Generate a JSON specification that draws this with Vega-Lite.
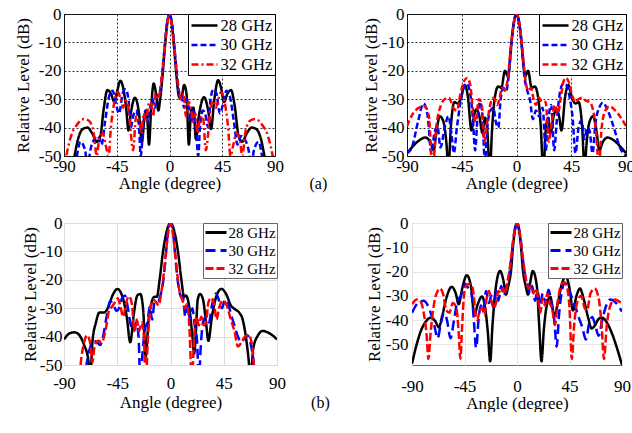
{
"$schema": "https://vega.github.io/schema/vega-lite/v6.json",
"padding": {"left": 13, "top": 4, "right": 0, "bottom": 0},
"background": "white",
"title": {"text": "(b)", "orient": "bottom", "anchor": "middle", "offset": -17, "dx": -4},
"config": {
  "font": "Liberation Serif",
  "view": {"stroke": null},
  "axis": {"labelFont": "Liberation Serif", "titleFont": "Liberation Serif", "labelFontSize": 17, "titleFontSize": 17, "titleFontWeight": "normal", "labelColor": "#000", "titleColor": "#000", "ticks": false, "domain": false, "labelFlush": false, "labelOverlap": false},
  "legend": {"labelFont": "Liberation Serif", "labelColor": "#000", "orient": "top-right", "offset": 0, "fillColor": "#fff"},
  "title": {"font": "Liberation Serif", "fontSize": 16, "fontWeight": "normal", "color": "#000"}
},
"datasets": {
"p1": [
{"f":"28 GHz","a":-90,"v":-62},{"f":"28 GHz","a":-82,"v":-52},{"f":"28 GHz","a":-78,"v":-44},{"f":"28 GHz","a":-74,"v":-40.5},{"f":"28 GHz","a":-70,"v":-40},{"f":"28 GHz","a":-66,"v":-42},{"f":"28 GHz","a":-62,"v":-45},{"f":"28 GHz","a":-59,"v":-43},{"f":"28 GHz","a":-56,"v":-33},{"f":"28 GHz","a":-53,"v":-26.8},{"f":"28 GHz","a":-50,"v":-28},{"f":"28 GHz","a":-47,"v":-31},{"f":"28 GHz","a":-44.5,"v":-27},{"f":"28 GHz","a":-42,"v":-23.5},{"f":"28 GHz","a":-39.5,"v":-26},{"f":"28 GHz","a":-37,"v":-33},{"f":"28 GHz","a":-35,"v":-41},{"f":"28 GHz","a":-33,"v":-35},{"f":"28 GHz","a":-29.5,"v":-29.5},{"f":"28 GHz","a":-26,"v":-35},{"f":"28 GHz","a":-23.5,"v":-45},{"f":"28 GHz","a":-21,"v":-35},{"f":"28 GHz","a":-19.5,"v":-34},{"f":"28 GHz","a":-17.5,"v":-46},{"f":"28 GHz","a":-15.5,"v":-32},{"f":"28 GHz","a":-13.5,"v":-24.5},{"f":"28 GHz","a":-11.5,"v":-28},{"f":"28 GHz","a":-9.5,"v":-34},{"f":"28 GHz","a":-8,"v":-30},{"f":"28 GHz","a":-6,"v":-22},{"f":"28 GHz","a":-4,"v":-12},{"f":"28 GHz","a":-2,"v":-3.5},{"f":"28 GHz","a":0,"v":0},{"f":"28 GHz","a":2,"v":-3.5},{"f":"28 GHz","a":4,"v":-12},{"f":"28 GHz","a":6,"v":-22},{"f":"28 GHz","a":8,"v":-29},{"f":"28 GHz","a":10,"v":-30},{"f":"28 GHz","a":12.5,"v":-25},{"f":"28 GHz","a":14.5,"v":-28},{"f":"28 GHz","a":16.5,"v":-46},{"f":"28 GHz","a":18.5,"v":-34},{"f":"28 GHz","a":20.5,"v":-33},{"f":"28 GHz","a":22.5,"v":-44},{"f":"28 GHz","a":25,"v":-36},{"f":"28 GHz","a":29.5,"v":-29.3},{"f":"28 GHz","a":33,"v":-34},{"f":"28 GHz","a":35.5,"v":-40.5},{"f":"28 GHz","a":38,"v":-31},{"f":"28 GHz","a":41.5,"v":-23.3},{"f":"28 GHz","a":44,"v":-26},{"f":"28 GHz","a":46.5,"v":-31},{"f":"28 GHz","a":49.5,"v":-28},{"f":"28 GHz","a":52.5,"v":-26.8},{"f":"28 GHz","a":55.5,"v":-32},{"f":"28 GHz","a":59,"v":-43},{"f":"28 GHz","a":62,"v":-45},{"f":"28 GHz","a":66,"v":-42},{"f":"28 GHz","a":70,"v":-40},{"f":"28 GHz","a":74,"v":-40.5},{"f":"28 GHz","a":78,"v":-44},{"f":"28 GHz","a":82,"v":-52},{"f":"28 GHz","a":90,"v":-62},
{"f":"30 GHz","a":-90,"v":-62},{"f":"30 GHz","a":-80,"v":-52},{"f":"30 GHz","a":-76,"v":-45},{"f":"30 GHz","a":-72,"v":-48},{"f":"30 GHz","a":-70,"v":-53},{"f":"30 GHz","a":-67,"v":-47},{"f":"30 GHz","a":-64,"v":-44},{"f":"30 GHz","a":-61,"v":-43},{"f":"30 GHz","a":-58,"v":-46},{"f":"30 GHz","a":-55,"v":-38},{"f":"30 GHz","a":-51.5,"v":-29},{"f":"30 GHz","a":-48.5,"v":-27},{"f":"30 GHz","a":-45.5,"v":-32},{"f":"30 GHz","a":-43,"v":-35},{"f":"30 GHz","a":-40,"v":-28},{"f":"30 GHz","a":-37.5,"v":-26.5},{"f":"30 GHz","a":-35,"v":-30},{"f":"30 GHz","a":-33,"v":-40},{"f":"30 GHz","a":-31,"v":-36},{"f":"30 GHz","a":-28.5,"v":-34},{"f":"30 GHz","a":-26,"v":-40},{"f":"30 GHz","a":-24.5,"v":-50},{"f":"30 GHz","a":-22.5,"v":-40},{"f":"30 GHz","a":-20.5,"v":-34},{"f":"30 GHz","a":-18.5,"v":-38},{"f":"30 GHz","a":-16.5,"v":-33},{"f":"30 GHz","a":-14.5,"v":-30},{"f":"30 GHz","a":-12.5,"v":-33},{"f":"30 GHz","a":-10.5,"v":-29},{"f":"30 GHz","a":-8.5,"v":-28},{"f":"30 GHz","a":-6.5,"v":-22},{"f":"30 GHz","a":-4.5,"v":-13},{"f":"30 GHz","a":-2.5,"v":-4.5},{"f":"30 GHz","a":0,"v":0},{"f":"30 GHz","a":2.5,"v":-4.5},{"f":"30 GHz","a":4.5,"v":-13},{"f":"30 GHz","a":6.5,"v":-22},{"f":"30 GHz","a":8.5,"v":-28},{"f":"30 GHz","a":10.5,"v":-29},{"f":"30 GHz","a":12.5,"v":-33},{"f":"30 GHz","a":14.5,"v":-30},{"f":"30 GHz","a":16.5,"v":-33},{"f":"30 GHz","a":18.5,"v":-38},{"f":"30 GHz","a":20.5,"v":-34},{"f":"30 GHz","a":22.5,"v":-40},{"f":"30 GHz","a":24.5,"v":-50},{"f":"30 GHz","a":26,"v":-40},{"f":"30 GHz","a":28.5,"v":-34},{"f":"30 GHz","a":31,"v":-36},{"f":"30 GHz","a":33,"v":-40},{"f":"30 GHz","a":35,"v":-30},{"f":"30 GHz","a":37.5,"v":-26.5},{"f":"30 GHz","a":40,"v":-28},{"f":"30 GHz","a":43,"v":-35},{"f":"30 GHz","a":45.5,"v":-32},{"f":"30 GHz","a":48.5,"v":-27},{"f":"30 GHz","a":51.5,"v":-29},{"f":"30 GHz","a":55,"v":-38},{"f":"30 GHz","a":58,"v":-46},{"f":"30 GHz","a":61,"v":-43},{"f":"30 GHz","a":64,"v":-44},{"f":"30 GHz","a":67,"v":-47},{"f":"30 GHz","a":70,"v":-53},{"f":"30 GHz","a":72,"v":-48},{"f":"30 GHz","a":76,"v":-45},{"f":"30 GHz","a":80,"v":-52},{"f":"30 GHz","a":90,"v":-62},
{"f":"32 GHz","a":-90,"v":-55},{"f":"32 GHz","a":-88,"v":-50},{"f":"32 GHz","a":-84,"v":-43},{"f":"32 GHz","a":-79,"v":-39},{"f":"32 GHz","a":-73,"v":-37},{"f":"32 GHz","a":-69,"v":-37.5},{"f":"32 GHz","a":-65,"v":-41},{"f":"32 GHz","a":-62,"v":-50},{"f":"32 GHz","a":-60,"v":-44},{"f":"32 GHz","a":-57,"v":-42},{"f":"32 GHz","a":-54.5,"v":-46},{"f":"32 GHz","a":-52,"v":-50},{"f":"32 GHz","a":-50,"v":-40},{"f":"32 GHz","a":-47,"v":-31},{"f":"32 GHz","a":-44,"v":-27.5},{"f":"32 GHz","a":-41,"v":-31},{"f":"32 GHz","a":-39.5,"v":-33},{"f":"32 GHz","a":-37.5,"v":-30.5},{"f":"32 GHz","a":-35,"v":-33},{"f":"32 GHz","a":-33,"v":-42},{"f":"32 GHz","a":-31,"v":-48},{"f":"32 GHz","a":-28.5,"v":-36},{"f":"32 GHz","a":-26,"v":-37},{"f":"32 GHz","a":-24,"v":-42},{"f":"32 GHz","a":-22,"v":-35},{"f":"32 GHz","a":-20,"v":-38},{"f":"32 GHz","a":-18,"v":-32},{"f":"32 GHz","a":-16,"v":-31},{"f":"32 GHz","a":-14,"v":-36},{"f":"32 GHz","a":-12,"v":-28},{"f":"32 GHz","a":-10,"v":-30},{"f":"32 GHz","a":-8,"v":-27},{"f":"32 GHz","a":-6,"v":-20},{"f":"32 GHz","a":-4,"v":-12},{"f":"32 GHz","a":-2,"v":-3.8},{"f":"32 GHz","a":0,"v":0},{"f":"32 GHz","a":2,"v":-3.8},{"f":"32 GHz","a":4,"v":-12},{"f":"32 GHz","a":6,"v":-20},{"f":"32 GHz","a":8,"v":-27},{"f":"32 GHz","a":10,"v":-30},{"f":"32 GHz","a":12,"v":-28},{"f":"32 GHz","a":14,"v":-36},{"f":"32 GHz","a":16,"v":-31},{"f":"32 GHz","a":18,"v":-32},{"f":"32 GHz","a":20,"v":-38},{"f":"32 GHz","a":22,"v":-35},{"f":"32 GHz","a":24,"v":-42},{"f":"32 GHz","a":26,"v":-37},{"f":"32 GHz","a":28.5,"v":-36},{"f":"32 GHz","a":31,"v":-48},{"f":"32 GHz","a":33,"v":-42},{"f":"32 GHz","a":35,"v":-33},{"f":"32 GHz","a":37.5,"v":-30.5},{"f":"32 GHz","a":39.5,"v":-33},{"f":"32 GHz","a":41,"v":-31},{"f":"32 GHz","a":44,"v":-27.5},{"f":"32 GHz","a":47,"v":-31},{"f":"32 GHz","a":50,"v":-40},{"f":"32 GHz","a":52,"v":-50},{"f":"32 GHz","a":54.5,"v":-46},{"f":"32 GHz","a":57,"v":-42},{"f":"32 GHz","a":60,"v":-44},{"f":"32 GHz","a":62,"v":-50},{"f":"32 GHz","a":65,"v":-41},{"f":"32 GHz","a":69,"v":-37.5},{"f":"32 GHz","a":73,"v":-37},{"f":"32 GHz","a":79,"v":-39},{"f":"32 GHz","a":84,"v":-43},{"f":"32 GHz","a":88,"v":-50},{"f":"32 GHz","a":90,"v":-55}
],
"p2": [
{"f":"28 GHz","a":-90,"v":-49},{"f":"28 GHz","a":-86,"v":-47},{"f":"28 GHz","a":-80,"v":-44.5},{"f":"28 GHz","a":-75,"v":-43.5},{"f":"28 GHz","a":-71,"v":-45},{"f":"28 GHz","a":-68,"v":-48},{"f":"28 GHz","a":-66,"v":-42},{"f":"28 GHz","a":-63,"v":-36},{"f":"28 GHz","a":-60,"v":-38},{"f":"28 GHz","a":-57.5,"v":-46},{"f":"28 GHz","a":-56,"v":-55},{"f":"28 GHz","a":-54,"v":-40},{"f":"28 GHz","a":-51,"v":-31},{"f":"28 GHz","a":-48.5,"v":-31.5},{"f":"28 GHz","a":-46,"v":-30},{"f":"28 GHz","a":-42.5,"v":-25},{"f":"28 GHz","a":-40,"v":-29},{"f":"28 GHz","a":-37,"v":-41},{"f":"28 GHz","a":-35,"v":-36},{"f":"28 GHz","a":-33,"v":-33.5},{"f":"28 GHz","a":-30.5,"v":-36},{"f":"28 GHz","a":-28,"v":-42},{"f":"28 GHz","a":-26,"v":-36.5},{"f":"28 GHz","a":-24,"v":-41},{"f":"28 GHz","a":-22,"v":-56},{"f":"28 GHz","a":-20,"v":-40},{"f":"28 GHz","a":-18,"v":-30},{"f":"28 GHz","a":-15,"v":-25.5},{"f":"28 GHz","a":-12.5,"v":-26},{"f":"28 GHz","a":-9.5,"v":-20},{"f":"28 GHz","a":-7,"v":-22},{"f":"28 GHz","a":-5.5,"v":-17},{"f":"28 GHz","a":-4,"v":-9.5},{"f":"28 GHz","a":-2,"v":-2.8},{"f":"28 GHz","a":0,"v":0},{"f":"28 GHz","a":2,"v":-2.8},{"f":"28 GHz","a":4,"v":-9.5},{"f":"28 GHz","a":5.5,"v":-17},{"f":"28 GHz","a":7,"v":-22},{"f":"28 GHz","a":9.5,"v":-20},{"f":"28 GHz","a":12.5,"v":-26},{"f":"28 GHz","a":15,"v":-25.5},{"f":"28 GHz","a":18,"v":-30},{"f":"28 GHz","a":20,"v":-40},{"f":"28 GHz","a":22,"v":-56},{"f":"28 GHz","a":24,"v":-41},{"f":"28 GHz","a":26,"v":-36.5},{"f":"28 GHz","a":28,"v":-42},{"f":"28 GHz","a":30.5,"v":-36},{"f":"28 GHz","a":33,"v":-33.5},{"f":"28 GHz","a":35,"v":-36},{"f":"28 GHz","a":37,"v":-41},{"f":"28 GHz","a":40,"v":-29},{"f":"28 GHz","a":42.5,"v":-25},{"f":"28 GHz","a":46,"v":-30},{"f":"28 GHz","a":48.5,"v":-31.5},{"f":"28 GHz","a":51,"v":-31},{"f":"28 GHz","a":54,"v":-40},{"f":"28 GHz","a":56,"v":-55},{"f":"28 GHz","a":57.5,"v":-46},{"f":"28 GHz","a":60,"v":-38},{"f":"28 GHz","a":63,"v":-36},{"f":"28 GHz","a":66,"v":-42},{"f":"28 GHz","a":68,"v":-48},{"f":"28 GHz","a":71,"v":-45},{"f":"28 GHz","a":75,"v":-43.5},{"f":"28 GHz","a":80,"v":-44.5},{"f":"28 GHz","a":86,"v":-47},{"f":"28 GHz","a":90,"v":-49},
{"f":"30 GHz","a":-90,"v":-49},{"f":"30 GHz","a":-86,"v":-47},{"f":"30 GHz","a":-81,"v":-38},{"f":"30 GHz","a":-76.5,"v":-31.5},{"f":"30 GHz","a":-73,"v":-36},{"f":"30 GHz","a":-70,"v":-49},{"f":"30 GHz","a":-67.5,"v":-42},{"f":"30 GHz","a":-65,"v":-39.5},{"f":"30 GHz","a":-62.5,"v":-47},{"f":"30 GHz","a":-59,"v":-40},{"f":"30 GHz","a":-56,"v":-36},{"f":"30 GHz","a":-53.5,"v":-42},{"f":"30 GHz","a":-51.5,"v":-49},{"f":"30 GHz","a":-49,"v":-40},{"f":"30 GHz","a":-46,"v":-31},{"f":"30 GHz","a":-43.5,"v":-26},{"f":"30 GHz","a":-41,"v":-24.5},{"f":"30 GHz","a":-38.5,"v":-27},{"f":"30 GHz","a":-36,"v":-36},{"f":"30 GHz","a":-34,"v":-48},{"f":"30 GHz","a":-32,"v":-36},{"f":"30 GHz","a":-30,"v":-31},{"f":"30 GHz","a":-28,"v":-36},{"f":"30 GHz","a":-26,"v":-52},{"f":"30 GHz","a":-24,"v":-40},{"f":"30 GHz","a":-21.5,"v":-34},{"f":"30 GHz","a":-19,"v":-33},{"f":"30 GHz","a":-17,"v":-38},{"f":"30 GHz","a":-15,"v":-40},{"f":"30 GHz","a":-13,"v":-30},{"f":"30 GHz","a":-11,"v":-26},{"f":"30 GHz","a":-8.5,"v":-27},{"f":"30 GHz","a":-6.5,"v":-22},{"f":"30 GHz","a":-4.5,"v":-12},{"f":"30 GHz","a":-2.5,"v":-3.8},{"f":"30 GHz","a":0,"v":0},{"f":"30 GHz","a":2.5,"v":-3.8},{"f":"30 GHz","a":4.5,"v":-12},{"f":"30 GHz","a":6.5,"v":-22},{"f":"30 GHz","a":8.5,"v":-26.5},{"f":"30 GHz","a":11,"v":-30},{"f":"30 GHz","a":13.5,"v":-37},{"f":"30 GHz","a":16,"v":-34},{"f":"30 GHz","a":18.5,"v":-36},{"f":"30 GHz","a":21.5,"v":-33},{"f":"30 GHz","a":24,"v":-48},{"f":"30 GHz","a":26.5,"v":-36},{"f":"30 GHz","a":28.5,"v":-32},{"f":"30 GHz","a":31,"v":-48},{"f":"30 GHz","a":33,"v":-38},{"f":"30 GHz","a":36,"v":-27},{"f":"30 GHz","a":38.5,"v":-24.5},{"f":"30 GHz","a":41,"v":-25},{"f":"30 GHz","a":43.5,"v":-29},{"f":"30 GHz","a":46,"v":-36},{"f":"30 GHz","a":48.5,"v":-49},{"f":"30 GHz","a":51,"v":-40},{"f":"30 GHz","a":53.5,"v":-37.5},{"f":"30 GHz","a":56,"v":-44},{"f":"30 GHz","a":58,"v":-40},{"f":"30 GHz","a":60,"v":-41},{"f":"30 GHz","a":62.5,"v":-49},{"f":"30 GHz","a":65,"v":-38},{"f":"30 GHz","a":68,"v":-33},{"f":"30 GHz","a":71,"v":-31.2},{"f":"30 GHz","a":75,"v":-34},{"f":"30 GHz","a":80,"v":-40},{"f":"30 GHz","a":85,"v":-47},{"f":"30 GHz","a":90,"v":-50},
{"f":"32 GHz","a":-90,"v":-39.5},{"f":"32 GHz","a":-85,"v":-35},{"f":"32 GHz","a":-80,"v":-33},{"f":"32 GHz","a":-75.5,"v":-32.5},{"f":"32 GHz","a":-72,"v":-36},{"f":"32 GHz","a":-69,"v":-55},{"f":"32 GHz","a":-66,"v":-40},{"f":"32 GHz","a":-62,"v":-32},{"f":"32 GHz","a":-59,"v":-30},{"f":"32 GHz","a":-55.5,"v":-29.5},{"f":"32 GHz","a":-52,"v":-33},{"f":"32 GHz","a":-49,"v":-34},{"f":"32 GHz","a":-46,"v":-28},{"f":"32 GHz","a":-43,"v":-23.5},{"f":"32 GHz","a":-40.5,"v":-22.5},{"f":"32 GHz","a":-38,"v":-25},{"f":"32 GHz","a":-35.5,"v":-35},{"f":"32 GHz","a":-33.5,"v":-38},{"f":"32 GHz","a":-31,"v":-30},{"f":"32 GHz","a":-28.5,"v":-32},{"f":"32 GHz","a":-26.5,"v":-45},{"f":"32 GHz","a":-24,"v":-38},{"f":"32 GHz","a":-21,"v":-31},{"f":"32 GHz","a":-18.5,"v":-29.5},{"f":"32 GHz","a":-16,"v":-32},{"f":"32 GHz","a":-14,"v":-30},{"f":"32 GHz","a":-12,"v":-26},{"f":"32 GHz","a":-9.5,"v":-27},{"f":"32 GHz","a":-7,"v":-22},{"f":"32 GHz","a":-5,"v":-13},{"f":"32 GHz","a":-2.5,"v":-3.8},{"f":"32 GHz","a":0,"v":0},{"f":"32 GHz","a":2.5,"v":-3.8},{"f":"32 GHz","a":5,"v":-13},{"f":"32 GHz","a":7,"v":-22},{"f":"32 GHz","a":9.5,"v":-27},{"f":"32 GHz","a":12,"v":-26},{"f":"32 GHz","a":14,"v":-30},{"f":"32 GHz","a":16,"v":-32},{"f":"32 GHz","a":18.5,"v":-29.5},{"f":"32 GHz","a":21,"v":-31},{"f":"32 GHz","a":24,"v":-31},{"f":"32 GHz","a":26.5,"v":-45},{"f":"32 GHz","a":29,"v":-38},{"f":"32 GHz","a":31.5,"v":-32},{"f":"32 GHz","a":34,"v":-35},{"f":"32 GHz","a":36.5,"v":-29},{"f":"32 GHz","a":38.5,"v":-24},{"f":"32 GHz","a":40.5,"v":-22.5},{"f":"32 GHz","a":43,"v":-24},{"f":"32 GHz","a":46,"v":-29},{"f":"32 GHz","a":48.5,"v":-31},{"f":"32 GHz","a":51,"v":-30},{"f":"32 GHz","a":54,"v":-29.5},{"f":"32 GHz","a":57,"v":-30.5},{"f":"32 GHz","a":60,"v":-31},{"f":"32 GHz","a":63,"v":-34},{"f":"32 GHz","a":66,"v":-45},{"f":"32 GHz","a":67.5,"v":-55},{"f":"32 GHz","a":70,"v":-40},{"f":"32 GHz","a":73,"v":-34},{"f":"32 GHz","a":76.5,"v":-32.5},{"f":"32 GHz","a":80,"v":-33.5},{"f":"32 GHz","a":85,"v":-36},{"f":"32 GHz","a":90,"v":-39.5}
],
"p3": [
{"f":"28 GHz","a":-90,"v":-41},{"f":"28 GHz","a":-85,"v":-38.8},{"f":"28 GHz","a":-81,"v":-38.5},{"f":"28 GHz","a":-77,"v":-39.5},{"f":"28 GHz","a":-73,"v":-43},{"f":"28 GHz","a":-69.5,"v":-48},{"f":"28 GHz","a":-68,"v":-56},{"f":"28 GHz","a":-66,"v":-42},{"f":"28 GHz","a":-63,"v":-35},{"f":"28 GHz","a":-60,"v":-31.5},{"f":"28 GHz","a":-56,"v":-31.5},{"f":"28 GHz","a":-53,"v":-30},{"f":"28 GHz","a":-49,"v":-25.5},{"f":"28 GHz","a":-45,"v":-23.2},{"f":"28 GHz","a":-41,"v":-25.5},{"f":"28 GHz","a":-37,"v":-33},{"f":"28 GHz","a":-34,"v":-42},{"f":"28 GHz","a":-31,"v":-32},{"f":"28 GHz","a":-28,"v":-25.5},{"f":"28 GHz","a":-25.5,"v":-25},{"f":"28 GHz","a":-23,"v":-31},{"f":"28 GHz","a":-21,"v":-47},{"f":"28 GHz","a":-18.5,"v":-34},{"f":"28 GHz","a":-16,"v":-28},{"f":"28 GHz","a":-13.5,"v":-26},{"f":"28 GHz","a":-11.5,"v":-26},{"f":"28 GHz","a":-9.2,"v":-20},{"f":"28 GHz","a":-6.3,"v":-10},{"f":"28 GHz","a":-3,"v":-2.6},{"f":"28 GHz","a":0,"v":0},{"f":"28 GHz","a":3,"v":-2.6},{"f":"28 GHz","a":6.3,"v":-10},{"f":"28 GHz","a":9.2,"v":-20},{"f":"28 GHz","a":11.5,"v":-26},{"f":"28 GHz","a":13,"v":-25.5},{"f":"28 GHz","a":16,"v":-30},{"f":"28 GHz","a":18.5,"v":-40},{"f":"28 GHz","a":20,"v":-46},{"f":"28 GHz","a":21.5,"v":-38},{"f":"28 GHz","a":23,"v":-27},{"f":"28 GHz","a":25,"v":-25},{"f":"28 GHz","a":27.5,"v":-27},{"f":"28 GHz","a":30,"v":-35},{"f":"28 GHz","a":32,"v":-41.5},{"f":"28 GHz","a":35,"v":-33},{"f":"28 GHz","a":39,"v":-25.5},{"f":"28 GHz","a":43,"v":-23.2},{"f":"28 GHz","a":47,"v":-25},{"f":"28 GHz","a":51,"v":-29},{"f":"28 GHz","a":55,"v":-30.5},{"f":"28 GHz","a":58,"v":-31.5},{"f":"28 GHz","a":61,"v":-34},{"f":"28 GHz","a":64,"v":-41},{"f":"28 GHz","a":66,"v":-48},{"f":"28 GHz","a":67.5,"v":-55},{"f":"28 GHz","a":70,"v":-44},{"f":"28 GHz","a":74,"v":-39.5},{"f":"28 GHz","a":78,"v":-38},{"f":"28 GHz","a":82,"v":-38.5},{"f":"28 GHz","a":86,"v":-39.5},{"f":"28 GHz","a":90,"v":-41},
{"f":"30 GHz","a":-90,"v":-62},{"f":"30 GHz","a":-74,"v":-60},{"f":"30 GHz","a":-71,"v":-50},{"f":"30 GHz","a":-68,"v":-44},{"f":"30 GHz","a":-65,"v":-41.5},{"f":"30 GHz","a":-62,"v":-42},{"f":"30 GHz","a":-59.5,"v":-43},{"f":"30 GHz","a":-57,"v":-40},{"f":"30 GHz","a":-54,"v":-33},{"f":"30 GHz","a":-51,"v":-27.5},{"f":"30 GHz","a":-48,"v":-29},{"f":"30 GHz","a":-45.5,"v":-31},{"f":"30 GHz","a":-43.5,"v":-30},{"f":"30 GHz","a":-41,"v":-26.5},{"f":"30 GHz","a":-38.5,"v":-25.5},{"f":"30 GHz","a":-36,"v":-30},{"f":"30 GHz","a":-33.5,"v":-36},{"f":"30 GHz","a":-31,"v":-38},{"f":"30 GHz","a":-29,"v":-35},{"f":"30 GHz","a":-27,"v":-40},{"f":"30 GHz","a":-25.5,"v":-56},{"f":"30 GHz","a":-23.5,"v":-45},{"f":"30 GHz","a":-21.5,"v":-37},{"f":"30 GHz","a":-19.5,"v":-35},{"f":"30 GHz","a":-17.5,"v":-29.5},{"f":"30 GHz","a":-15.5,"v":-34},{"f":"30 GHz","a":-13.5,"v":-28},{"f":"30 GHz","a":-11,"v":-28},{"f":"30 GHz","a":-8.5,"v":-25.5},{"f":"30 GHz","a":-6.5,"v":-21.5},{"f":"30 GHz","a":-4.5,"v":-14},{"f":"30 GHz","a":-2.5,"v":-4.5},{"f":"30 GHz","a":0,"v":0},{"f":"30 GHz","a":2.5,"v":-4.5},{"f":"30 GHz","a":4.5,"v":-14},{"f":"30 GHz","a":6.5,"v":-21.5},{"f":"30 GHz","a":8.5,"v":-25.5},{"f":"30 GHz","a":10.5,"v":-26},{"f":"30 GHz","a":12.5,"v":-33},{"f":"30 GHz","a":14.5,"v":-29},{"f":"30 GHz","a":16.5,"v":-34},{"f":"30 GHz","a":18.5,"v":-30},{"f":"30 GHz","a":20.5,"v":-36},{"f":"30 GHz","a":22.5,"v":-42},{"f":"30 GHz","a":24,"v":-56},{"f":"30 GHz","a":25.5,"v":-44},{"f":"30 GHz","a":27.5,"v":-35},{"f":"30 GHz","a":30,"v":-33},{"f":"30 GHz","a":32.5,"v":-35},{"f":"30 GHz","a":35,"v":-29},{"f":"30 GHz","a":38.5,"v":-24.8},{"f":"30 GHz","a":41.5,"v":-28},{"f":"30 GHz","a":43.5,"v":-30},{"f":"30 GHz","a":46,"v":-27},{"f":"30 GHz","a":48.5,"v":-28},{"f":"30 GHz","a":51,"v":-32},{"f":"30 GHz","a":54,"v":-36},{"f":"30 GHz","a":57,"v":-40},{"f":"30 GHz","a":59.5,"v":-42},{"f":"30 GHz","a":62,"v":-41},{"f":"30 GHz","a":65,"v":-39.5},{"f":"30 GHz","a":68,"v":-43},{"f":"30 GHz","a":70,"v":-48},{"f":"30 GHz","a":72,"v":-56},{"f":"30 GHz","a":74,"v":-60},{"f":"30 GHz","a":90,"v":-62},
{"f":"32 GHz","a":-90,"v":-62},{"f":"32 GHz","a":-78,"v":-60},{"f":"32 GHz","a":-76,"v":-50},{"f":"32 GHz","a":-73,"v":-42},{"f":"32 GHz","a":-70.5,"v":-39.5},{"f":"32 GHz","a":-68,"v":-42},{"f":"32 GHz","a":-66,"v":-49},{"f":"32 GHz","a":-64,"v":-43},{"f":"32 GHz","a":-61,"v":-41.5},{"f":"32 GHz","a":-58,"v":-42},{"f":"32 GHz","a":-55,"v":-38},{"f":"32 GHz","a":-52,"v":-31},{"f":"32 GHz","a":-49.5,"v":-29.5},{"f":"32 GHz","a":-47,"v":-28},{"f":"32 GHz","a":-44.5,"v":-26.5},{"f":"32 GHz","a":-42,"v":-30},{"f":"32 GHz","a":-40,"v":-33},{"f":"32 GHz","a":-37.5,"v":-28},{"f":"32 GHz","a":-35,"v":-25.8},{"f":"32 GHz","a":-32.5,"v":-29},{"f":"32 GHz","a":-30.5,"v":-38},{"f":"32 GHz","a":-28.5,"v":-34},{"f":"32 GHz","a":-26.5,"v":-38},{"f":"32 GHz","a":-24.5,"v":-35},{"f":"32 GHz","a":-22.5,"v":-40},{"f":"32 GHz","a":-21,"v":-56},{"f":"32 GHz","a":-19,"v":-40},{"f":"32 GHz","a":-17,"v":-30},{"f":"32 GHz","a":-14.5,"v":-27},{"f":"32 GHz","a":-12,"v":-28},{"f":"32 GHz","a":-10,"v":-29},{"f":"32 GHz","a":-8,"v":-25},{"f":"32 GHz","a":-6,"v":-19},{"f":"32 GHz","a":-4,"v":-11},{"f":"32 GHz","a":-2,"v":-3.5},{"f":"32 GHz","a":0,"v":0},{"f":"32 GHz","a":2,"v":-3.5},{"f":"32 GHz","a":4,"v":-11},{"f":"32 GHz","a":6,"v":-19},{"f":"32 GHz","a":8,"v":-25},{"f":"32 GHz","a":10,"v":-27},{"f":"32 GHz","a":12,"v":-30},{"f":"32 GHz","a":14,"v":-28.5},{"f":"32 GHz","a":16,"v":-37},{"f":"32 GHz","a":18,"v":-56},{"f":"32 GHz","a":20,"v":-40},{"f":"32 GHz","a":22,"v":-33},{"f":"32 GHz","a":24,"v":-36},{"f":"32 GHz","a":26,"v":-33},{"f":"32 GHz","a":28,"v":-36},{"f":"32 GHz","a":30,"v":-35},{"f":"32 GHz","a":32,"v":-28},{"f":"32 GHz","a":34.5,"v":-26.3},{"f":"32 GHz","a":37,"v":-29},{"f":"32 GHz","a":39,"v":-34},{"f":"32 GHz","a":41,"v":-30},{"f":"32 GHz","a":44.5,"v":-27.3},{"f":"32 GHz","a":47.5,"v":-29},{"f":"32 GHz","a":51,"v":-34},{"f":"32 GHz","a":54,"v":-38},{"f":"32 GHz","a":57,"v":-43.5},{"f":"32 GHz","a":60,"v":-42},{"f":"32 GHz","a":63,"v":-40},{"f":"32 GHz","a":66,"v":-39.5},{"f":"32 GHz","a":69,"v":-43},{"f":"32 GHz","a":71.5,"v":-56},{"f":"32 GHz","a":75,"v":-60},{"f":"32 GHz","a":90,"v":-62}
],
"p4": [
{"f":"28 GHz","a":-90,"v":-58},{"f":"28 GHz","a":-86,"v":-50},{"f":"28 GHz","a":-82,"v":-44},{"f":"28 GHz","a":-78,"v":-40.5},{"f":"28 GHz","a":-74,"v":-39},{"f":"28 GHz","a":-70,"v":-40.5},{"f":"28 GHz","a":-67,"v":-43},{"f":"28 GHz","a":-64,"v":-38},{"f":"28 GHz","a":-60,"v":-30},{"f":"28 GHz","a":-56,"v":-26.3},{"f":"28 GHz","a":-52.5,"v":-29},{"f":"28 GHz","a":-50,"v":-33.5},{"f":"28 GHz","a":-47,"v":-27},{"f":"28 GHz","a":-43,"v":-21.5},{"f":"28 GHz","a":-39.5,"v":-26},{"f":"28 GHz","a":-36.5,"v":-38},{"f":"28 GHz","a":-34,"v":-34},{"f":"28 GHz","a":-30,"v":-30.3},{"f":"28 GHz","a":-27,"v":-36},{"f":"28 GHz","a":-25,"v":-45},{"f":"28 GHz","a":-23,"v":-57},{"f":"28 GHz","a":-21,"v":-42},{"f":"28 GHz","a":-18,"v":-26},{"f":"28 GHz","a":-14.5,"v":-19.8},{"f":"28 GHz","a":-11.5,"v":-24},{"f":"28 GHz","a":-9.5,"v":-29.5},{"f":"28 GHz","a":-7.5,"v":-26},{"f":"28 GHz","a":-5,"v":-19},{"f":"28 GHz","a":-3.5,"v":-10},{"f":"28 GHz","a":-1.8,"v":-3},{"f":"28 GHz","a":0,"v":0},{"f":"28 GHz","a":1.8,"v":-3},{"f":"28 GHz","a":3.5,"v":-10},{"f":"28 GHz","a":5,"v":-19},{"f":"28 GHz","a":7.5,"v":-26},{"f":"28 GHz","a":9.5,"v":-29.5},{"f":"28 GHz","a":11.5,"v":-24},{"f":"28 GHz","a":13.5,"v":-19.8},{"f":"28 GHz","a":17,"v":-26},{"f":"28 GHz","a":19,"v":-42},{"f":"28 GHz","a":21,"v":-57},{"f":"28 GHz","a":23,"v":-44},{"f":"28 GHz","a":25.5,"v":-34},{"f":"28 GHz","a":28.5,"v":-30.4},{"f":"28 GHz","a":32,"v":-38},{"f":"28 GHz","a":35,"v":-33},{"f":"28 GHz","a":38.5,"v":-25},{"f":"28 GHz","a":42,"v":-22},{"f":"28 GHz","a":45,"v":-27},{"f":"28 GHz","a":48,"v":-36},{"f":"28 GHz","a":51,"v":-30},{"f":"28 GHz","a":54,"v":-27},{"f":"28 GHz","a":57,"v":-31},{"f":"28 GHz","a":61,"v":-39},{"f":"28 GHz","a":64,"v":-43.5},{"f":"28 GHz","a":67,"v":-42},{"f":"28 GHz","a":70,"v":-39.5},{"f":"28 GHz","a":73,"v":-39},{"f":"28 GHz","a":77,"v":-41},{"f":"28 GHz","a":81,"v":-45},{"f":"28 GHz","a":86,"v":-52},{"f":"28 GHz","a":90,"v":-58.5},
{"f":"30 GHz","a":-90,"v":-37},{"f":"30 GHz","a":-85,"v":-33},{"f":"30 GHz","a":-80,"v":-32},{"f":"30 GHz","a":-75.5,"v":-35},{"f":"30 GHz","a":-71,"v":-42},{"f":"30 GHz","a":-68,"v":-47.5},{"f":"30 GHz","a":-65.5,"v":-42},{"f":"30 GHz","a":-62.5,"v":-37},{"f":"30 GHz","a":-60,"v":-40},{"f":"30 GHz","a":-57,"v":-47.5},{"f":"30 GHz","a":-54,"v":-40},{"f":"30 GHz","a":-51,"v":-32},{"f":"30 GHz","a":-48,"v":-30},{"f":"30 GHz","a":-44.5,"v":-25},{"f":"30 GHz","a":-41.5,"v":-27},{"f":"30 GHz","a":-39,"v":-29},{"f":"30 GHz","a":-37,"v":-40},{"f":"30 GHz","a":-35,"v":-51.5},{"f":"30 GHz","a":-33,"v":-40},{"f":"30 GHz","a":-31,"v":-34},{"f":"30 GHz","a":-29,"v":-36},{"f":"30 GHz","a":-26.5,"v":-28},{"f":"30 GHz","a":-24,"v":-33},{"f":"30 GHz","a":-22,"v":-30},{"f":"30 GHz","a":-20,"v":-35},{"f":"30 GHz","a":-18,"v":-28},{"f":"30 GHz","a":-16,"v":-32},{"f":"30 GHz","a":-13.5,"v":-26},{"f":"30 GHz","a":-11,"v":-30},{"f":"30 GHz","a":-9,"v":-25},{"f":"30 GHz","a":-7,"v":-22},{"f":"30 GHz","a":-5,"v":-15},{"f":"30 GHz","a":-2.5,"v":-4.5},{"f":"30 GHz","a":0,"v":0},{"f":"30 GHz","a":2.5,"v":-4.5},{"f":"30 GHz","a":5,"v":-15},{"f":"30 GHz","a":7,"v":-22},{"f":"30 GHz","a":9,"v":-25},{"f":"30 GHz","a":11,"v":-29},{"f":"30 GHz","a":13,"v":-26},{"f":"30 GHz","a":15.5,"v":-32},{"f":"30 GHz","a":17.5,"v":-28},{"f":"30 GHz","a":20,"v":-34},{"f":"30 GHz","a":22,"v":-29},{"f":"30 GHz","a":24.5,"v":-33},{"f":"30 GHz","a":27,"v":-27.5},{"f":"30 GHz","a":29.5,"v":-33},{"f":"30 GHz","a":32,"v":-40},{"f":"30 GHz","a":34,"v":-51},{"f":"30 GHz","a":36,"v":-38},{"f":"30 GHz","a":38.5,"v":-28},{"f":"30 GHz","a":41,"v":-24.5},{"f":"30 GHz","a":43.5,"v":-26.5},{"f":"30 GHz","a":46.5,"v":-30},{"f":"30 GHz","a":50,"v":-34.5},{"f":"30 GHz","a":53,"v":-39},{"f":"30 GHz","a":56,"v":-43},{"f":"30 GHz","a":59,"v":-48},{"f":"30 GHz","a":62,"v":-41},{"f":"30 GHz","a":64.5,"v":-38.7},{"f":"30 GHz","a":67,"v":-42},{"f":"30 GHz","a":70,"v":-46.5},{"f":"30 GHz","a":73,"v":-40},{"f":"30 GHz","a":76.5,"v":-34},{"f":"30 GHz","a":80,"v":-31.5},{"f":"30 GHz","a":85,"v":-33},{"f":"30 GHz","a":90,"v":-36.5},
{"f":"32 GHz","a":-90,"v":-33.5},{"f":"32 GHz","a":-86,"v":-31.5},{"f":"32 GHz","a":-83,"v":-32},{"f":"32 GHz","a":-80,"v":-37},{"f":"32 GHz","a":-77.5,"v":-46},{"f":"32 GHz","a":-76,"v":-56},{"f":"32 GHz","a":-74,"v":-45},{"f":"32 GHz","a":-71,"v":-33},{"f":"32 GHz","a":-68,"v":-28},{"f":"32 GHz","a":-66,"v":-27},{"f":"32 GHz","a":-63.5,"v":-29},{"f":"32 GHz","a":-60.5,"v":-36},{"f":"32 GHz","a":-58,"v":-37},{"f":"32 GHz","a":-55,"v":-33},{"f":"32 GHz","a":-52,"v":-35},{"f":"32 GHz","a":-50,"v":-45},{"f":"32 GHz","a":-48.5,"v":-56},{"f":"32 GHz","a":-47,"v":-42},{"f":"32 GHz","a":-45,"v":-28},{"f":"32 GHz","a":-43,"v":-25.5},{"f":"32 GHz","a":-41,"v":-25},{"f":"32 GHz","a":-39,"v":-25.5},{"f":"32 GHz","a":-37,"v":-30},{"f":"32 GHz","a":-35.5,"v":-38},{"f":"32 GHz","a":-34,"v":-40},{"f":"32 GHz","a":-32,"v":-36},{"f":"32 GHz","a":-30,"v":-35},{"f":"32 GHz","a":-28,"v":-38},{"f":"32 GHz","a":-26,"v":-31},{"f":"32 GHz","a":-24,"v":-28},{"f":"32 GHz","a":-22,"v":-32},{"f":"32 GHz","a":-20,"v":-35},{"f":"32 GHz","a":-18,"v":-33},{"f":"32 GHz","a":-16,"v":-28},{"f":"32 GHz","a":-14,"v":-29},{"f":"32 GHz","a":-12,"v":-27},{"f":"32 GHz","a":-10,"v":-29},{"f":"32 GHz","a":-8,"v":-24},{"f":"32 GHz","a":-6,"v":-18},{"f":"32 GHz","a":-4,"v":-10},{"f":"32 GHz","a":-2,"v":-3},{"f":"32 GHz","a":0,"v":0},{"f":"32 GHz","a":2,"v":-3},{"f":"32 GHz","a":4,"v":-10},{"f":"32 GHz","a":6,"v":-18},{"f":"32 GHz","a":8,"v":-24},{"f":"32 GHz","a":10,"v":-27},{"f":"32 GHz","a":12,"v":-26},{"f":"32 GHz","a":14,"v":-29},{"f":"32 GHz","a":16,"v":-27},{"f":"32 GHz","a":18,"v":-31},{"f":"32 GHz","a":20,"v":-37},{"f":"32 GHz","a":22,"v":-31},{"f":"32 GHz","a":24,"v":-34},{"f":"32 GHz","a":26,"v":-29},{"f":"32 GHz","a":28,"v":-33},{"f":"32 GHz","a":30,"v":-35},{"f":"32 GHz","a":32.5,"v":-42},{"f":"32 GHz","a":35,"v":-32},{"f":"32 GHz","a":37.5,"v":-26},{"f":"32 GHz","a":40,"v":-24.5},{"f":"32 GHz","a":42.5,"v":-26},{"f":"32 GHz","a":45,"v":-35},{"f":"32 GHz","a":47,"v":-56},{"f":"32 GHz","a":49,"v":-42},{"f":"32 GHz","a":52,"v":-32},{"f":"32 GHz","a":55,"v":-30},{"f":"32 GHz","a":58,"v":-35},{"f":"32 GHz","a":60,"v":-36},{"f":"32 GHz","a":63,"v":-29},{"f":"32 GHz","a":66.5,"v":-27},{"f":"32 GHz","a":70,"v":-31},{"f":"32 GHz","a":72.5,"v":-42},{"f":"32 GHz","a":74.5,"v":-56},{"f":"32 GHz","a":77,"v":-42},{"f":"32 GHz","a":80,"v":-34},{"f":"32 GHz","a":84,"v":-31.5},{"f":"32 GHz","a":88,"v":-32.5},{"f":"32 GHz","a":90,"v":-33}
]
},
"concat": [
{
 "hconcat": [
  {
   "width": 211, "height": 142,
   "data": {"name": "p1"},
   "view": {"stroke": "#222", "strokeWidth": 1},
   "mark": {"type": "line", "clip": true, "strokeWidth": 2.5, "interpolate": "monotone"},
   "encoding": {
    "x": {"field": "a", "type": "quantitative", "scale": {"domain": [-90, 90], "nice": false, "zero": false}, "axis": {"values": [-90, -45, 0, 45, 90], "title": "Angle (degree)", "labelExpr": "'' + datum.value", "gridColor": "#000", "gridDash": [2, 2], "gridWidth": 0.8, "gridOpacity": 1, "labelPadding": 2, "titlePadding": 1}},
    "y": {"field": "v", "type": "quantitative", "scale": {"domain": [-50, 0], "nice": false, "zero": false}, "axis": {"values": [-50, -40, -30, -20, -10, 0], "title": "Relative Level (dB)", "labelExpr": "'' + datum.value", "gridColor": "#000", "gridDash": [2, 2], "gridWidth": 0.8, "gridOpacity": 1, "labelPadding": 3, "titlePadding": 6}},
    "color": {"field": "f", "type": "nominal", "scale": {"domain": ["28 GHz", "30 GHz", "32 GHz"], "range": ["#000000", "#0000ff", "#ff0000"]}, "legend": {"title": null, "labelFontSize": 16.5, "symbolType": "M-1,0H2.25", "symbolSize": 256, "symbolStrokeWidth": 2.5, "labelOffset": 11.5, "padding": 2, "strokeColor": "#000", "rowPadding": 1.5}},
    "strokeDash": {"field": "f", "type": "nominal", "scale": {"domain": ["28 GHz", "30 GHz", "32 GHz"], "range": [[1, 0], [6, 3], [7, 3, 2, 3]]}, "legend": {"title": null, "labelFontSize": 16.5, "symbolType": "M-1,0H2.25", "symbolSize": 256, "symbolStrokeWidth": 2.5, "labelOffset": 11.5, "padding": 2, "strokeColor": "#000", "rowPadding": 1.5}}
   }
  },
  {
   "width": 219, "height": 142,
   "data": {"name": "p2"},
   "view": {"stroke": "#222", "strokeWidth": 1},
   "mark": {"type": "line", "clip": true, "strokeWidth": 2.5, "interpolate": "monotone"},
   "encoding": {
    "x": {"field": "a", "type": "quantitative", "scale": {"domain": [-90, 90], "nice": false, "zero": false}, "axis": {"values": [-90, -45, 0, 45, 90], "title": "Angle (degree)", "labelExpr": "'' + datum.value", "gridColor": "#000", "gridDash": [2, 2], "gridWidth": 0.8, "gridOpacity": 1, "labelPadding": 2, "titlePadding": 1}},
    "y": {"field": "v", "type": "quantitative", "scale": {"domain": [-50, 0], "nice": false, "zero": false}, "axis": {"values": [-50, -40, -30, -20, -10, 0], "title": "Relative Level (dB)", "labelExpr": "'' + datum.value", "gridColor": "#000", "gridDash": [2, 2], "gridWidth": 0.8, "gridOpacity": 1, "labelPadding": 3, "titlePadding": 1}},
    "color": {"field": "f", "type": "nominal", "scale": {"domain": ["28 GHz", "30 GHz", "32 GHz"], "range": ["#000000", "#0000ff", "#ff0000"]}, "legend": {"title": null, "labelFontSize": 16.5, "symbolType": "M-1,0H2.25", "symbolSize": 256, "symbolStrokeWidth": 2.5, "labelOffset": 11.5, "padding": 2, "strokeColor": "#000", "rowPadding": 1.5}},
    "strokeDash": {"field": "f", "type": "nominal", "scale": {"domain": ["28 GHz", "30 GHz", "32 GHz"], "range": [[1, 0], [6, 3], [6, 3]]}, "legend": {"title": null, "labelFontSize": 16.5, "symbolType": "M-1,0H2.25", "symbolSize": 256, "symbolStrokeWidth": 2.5, "labelOffset": 11.5, "padding": 2, "strokeColor": "#000", "rowPadding": 1.5}}
   }
  }
 ],
 "spacing": 77,
 "title": {"text": "(a)", "orient": "bottom", "anchor": "middle", "offset": -16, "dx": -6},
 "resolve": {"scale": {"color": "independent", "strokeDash": "independent", "x": "independent", "y": "independent"}, "legend": {"color": "independent", "strokeDash": "independent"}}
},
{
 "hconcat": [
  {
   "width": 213, "height": 142,
   "data": {"name": "p3"},
   "view": {"stroke": "#666", "strokeWidth": 1},
   "mark": {"type": "line", "clip": true, "strokeWidth": 2.5, "interpolate": "monotone"},
   "encoding": {
    "x": {"field": "a", "type": "quantitative", "scale": {"domain": [-90, 90], "nice": false, "zero": false}, "axis": {"values": [-90, -45, 0, 45, 90], "title": "Angle (degree)", "labelExpr": "'' + datum.value", "gridColor": "#dddddd", "gridWidth": 1, "labelPadding": 10, "titlePadding": 3}},
    "y": {"field": "v", "type": "quantitative", "scale": {"domain": [-50, 0], "nice": false, "zero": false}, "axis": {"values": [-50, -40, -30, -20, -10, 0], "title": "Relative Level (dB)", "labelExpr": "'' + datum.value", "gridColor": "#dddddd", "gridWidth": 1, "labelPadding": 2, "titlePadding": 0}},
    "color": {"field": "f", "type": "nominal", "scale": {"domain": ["28 GHz", "30 GHz", "32 GHz"], "range": ["#000000", "#0000ff", "#ff0000"]}, "legend": {"title": null, "labelFontSize": 15, "symbolType": "M-1,0H2", "symbolSize": 196, "symbolStrokeWidth": 3, "labelOffset": 7.5, "padding": 1, "strokeColor": "#666", "rowPadding": 1, "labelExpr": "datum.label == '30 GHz' ? '\u00a0\u00a030 GHz' : datum.label"}},
    "strokeDash": {"field": "f", "type": "nominal", "scale": {"domain": ["28 GHz", "30 GHz", "32 GHz"], "range": [[1, 0], [10, 5], [8, 3]]}, "legend": {"title": null, "labelFontSize": 15, "symbolType": "M-1,0H2", "symbolSize": 196, "symbolStrokeWidth": 3, "labelOffset": 7.5, "padding": 1, "strokeColor": "#666", "rowPadding": 1, "labelExpr": "datum.label == '30 GHz' ? '\u00a0\u00a030 GHz' : datum.label"}}
   }
  },
  {
   "width": 210, "height": 142,
   "data": {"name": "p4"},
   "view": {"stroke": "#666", "strokeWidth": 1},
   "mark": {"type": "line", "clip": true, "strokeWidth": 2.5, "interpolate": "monotone"},
   "encoding": {
    "x": {"field": "a", "type": "quantitative", "scale": {"domain": [-90, 90], "nice": false, "zero": false}, "axis": {"values": [-90, -45, 0, 45, 90], "title": "Angle (degree)", "labelExpr": "'' + datum.value", "gridColor": "#e6e6e6", "gridWidth": 1, "labelPadding": 13, "titlePadding": 1}},
    "y": {"field": "v", "type": "quantitative", "scale": {"domain": [-58.5, 0], "nice": false, "zero": false}, "axis": {"values": [-50, -40, -30, -20, -10, 0], "title": "Relative Level (dB)", "labelExpr": "'' + datum.value", "gridColor": "#e6e6e6", "gridWidth": 1, "labelPadding": 4, "titlePadding": 2}},
    "color": {"field": "f", "type": "nominal", "scale": {"domain": ["28 GHz", "30 GHz", "32 GHz"], "range": ["#000000", "#0000ff", "#ff0000"]}, "legend": {"title": null, "labelFontSize": 15, "symbolType": "M-1,0H2", "symbolSize": 196, "symbolStrokeWidth": 3, "labelOffset": 7.5, "padding": 1, "strokeColor": "#666", "rowPadding": 1, "labelExpr": "datum.label == '30 GHz' ? '\u00a0\u00a030 GHz' : datum.label"}},
    "strokeDash": {"field": "f", "type": "nominal", "scale": {"domain": ["28 GHz", "30 GHz", "32 GHz"], "range": [[1, 0], [10, 5], [8, 3]]}, "legend": {"title": null, "labelFontSize": 15, "symbolType": "M-1,0H2", "symbolSize": 196, "symbolStrokeWidth": 3, "labelOffset": 7.5, "padding": 1, "strokeColor": "#666", "rowPadding": 1, "labelExpr": "datum.label == '30 GHz' ? '\u00a0\u00a030 GHz' : datum.label"}}
   }
  }
 ],
 "spacing": 78,
 "resolve": {"scale": {"color": "independent", "strokeDash": "independent", "x": "independent", "y": "independent"}, "legend": {"color": "independent", "strokeDash": "independent"}}
}
],
"columns": 1,
"align": "none",
"spacing": 21,
"resolve": {"scale": {"color": "independent", "strokeDash": "independent"}, "legend": {"color": "independent", "strokeDash": "independent"}}
}
